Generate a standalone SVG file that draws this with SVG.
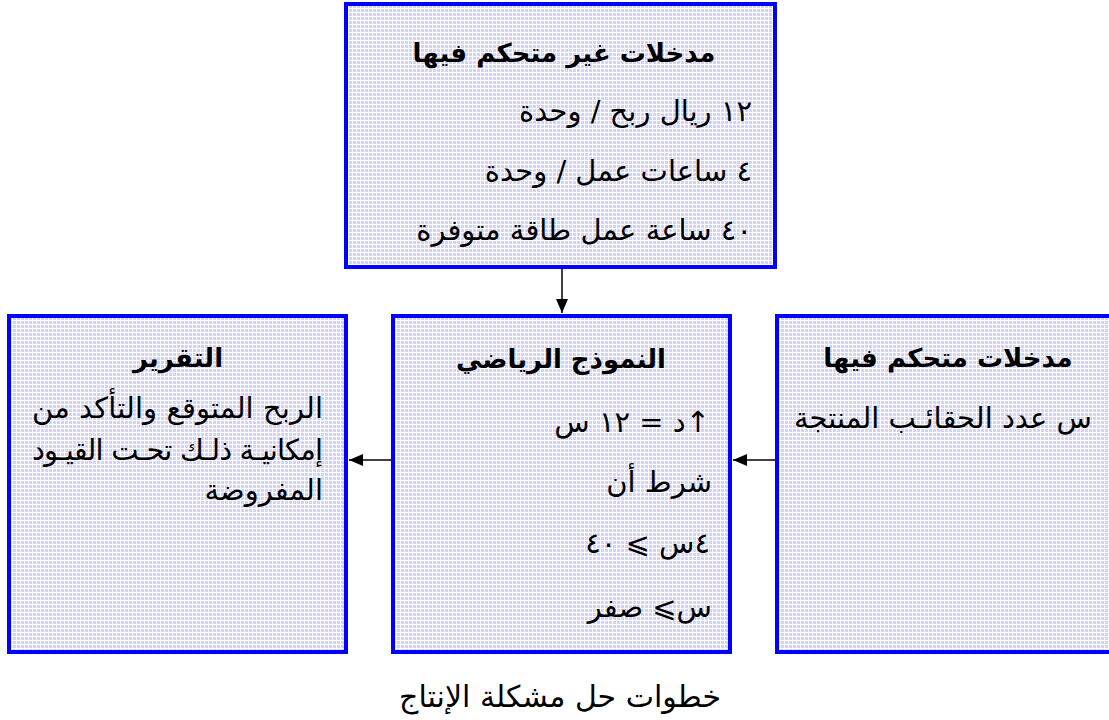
<svg xmlns="http://www.w3.org/2000/svg" width="1109" height="720" viewBox="0 0 1109 720">
<style>
text{font-family:"DejaVu Sans","Liberation Sans",sans-serif;fill:#000;}
.t{font-weight:bold;font-size:26px;text-anchor:middle;}
.b{font-size:29px;}
.box{fill:url(#grid);stroke:#0000ff;stroke-width:4;}
.edge{stroke:#000;stroke-width:1.5;fill:none;marker-end:url(#ah);}
</style>
<defs>
<pattern id="grid" width="4" height="4" patternUnits="userSpaceOnUse">
<rect width="4" height="4" fill="#d2d2fb"/>
<path d="M0 0.5H4M0.5 0V4" stroke="#ffffff" stroke-width="1"/>
</pattern>
<marker id="ah" markerWidth="14" markerHeight="12" refX="14" refY="6" orient="auto" markerUnits="userSpaceOnUse">
<path d="M0 0L14 6L0 12z" fill="#000"/>
</marker>
</defs>
<rect width="1109" height="720" fill="#fff"/>
<g id="connectors">
<line class="edge" x1="562" y1="268" x2="562" y2="313"/>
<line class="edge" x1="775" y1="460" x2="733" y2="460"/>
<line class="edge" x1="391" y1="460" x2="349" y2="460"/>
</g>
<g id="uncontrolled">
<rect class="box" x="346" y="4" width="429" height="263"/>
<text class="t" x="564" y="62">مدخلات غير متحكم فيها</text>
<text class="b" x="752" y="121" direction="rtl">١٢ ريال ربح / وحدة</text>
<text class="b" x="752" y="181" direction="rtl">٤ ساعات عمل / وحدة</text>
<text class="b" x="752" y="240" direction="rtl">٤٠ ساعة عمل طاقة متوفرة</text>
</g>
<g id="model">
<rect class="box" x="393" y="316" width="337" height="336"/>
<text class="t" x="561" y="368">النموذج الرياضي</text>
<text class="b" x="710" y="432" direction="rtl">↑د = ١٢ س</text>
<text class="b" x="712" y="492" direction="rtl">شرط أن</text>
<text class="b" x="710" y="553" direction="rtl">٤س ⩾ ٤٠</text>
<text class="b" x="712" y="617" direction="rtl">س⩾ صفر</text>
</g>
<g id="report">
<rect class="box" x="9" y="316" width="337" height="336"/>
<text class="t" x="178" y="367">التقرير</text>
<text class="b" x="323" y="418" direction="rtl" textLength="291" lengthAdjust="spacing">الربح المتوقع والتأكد من</text>
<text class="b" x="323" y="460" direction="rtl" textLength="291" lengthAdjust="spacing">إمكانيـة ذلـك تحـت القيـود</text>
<text class="b" x="323" y="500" direction="rtl">المفروضة</text>
</g>
<g id="controlled">
<rect class="box" x="777" y="316" width="345" height="336"/>
<text class="t" x="948" y="367">مدخلات متحكم فيها</text>
<text class="b" x="1092" y="428" direction="rtl">س عدد الحقائـب المنتجة</text>
</g>
<text x="560" y="707" font-size="30" text-anchor="middle">خطوات حل مشكلة الإنتاج</text>
</svg>
